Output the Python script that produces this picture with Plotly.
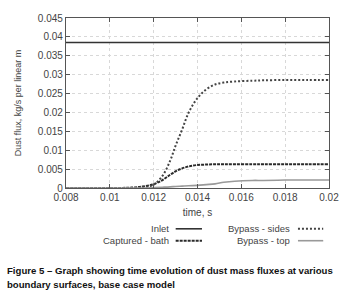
import plotly.graph_objects as go

t = [0.008, 0.009, 0.010, 0.011, 0.0115, 0.012, 0.0124, 0.01275, 0.013, 0.0133,
     0.0136, 0.014, 0.0144, 0.0148, 0.0152, 0.0157, 0.0165, 0.017, 0.018, 0.019, 0.020]
inlet = [0.0385] * len(t)
captured = [0.0, 0.0, 0.0, 0.0001, 0.0004, 0.0010, 0.0021, 0.0035, 0.0044, 0.0052,
            0.0057, 0.0061, 0.0062, 0.0063, 0.0063, 0.0063, 0.0063, 0.0063, 0.0063, 0.0063, 0.0063]
sides = [0.0, 0.0, 0.0, 0.0, 0.0002, 0.0009, 0.0032, 0.0072, 0.0112, 0.0155,
         0.0200, 0.0238, 0.0261, 0.0274, 0.0279, 0.0282, 0.0284, 0.0285, 0.0286, 0.0286, 0.0286]
top = [0.0, 0.0, 0.0, 0.0, 0.0, 0.0001, 0.0002, 0.0003, 0.0004, 0.0005,
       0.0006, 0.0007, 0.0009, 0.0011, 0.0015, 0.0018, 0.0020, 0.0020, 0.0021, 0.0021, 0.0021]

x_ticks = [0.008, 0.01, 0.012, 0.014, 0.016, 0.018, 0.02]
x_labels = ["0.008", "0.01", "0.012", "0.014", "0.016", "0.018", "0.02"]
y_ticks = [0, 0.005, 0.01, 0.015, 0.02, 0.025, 0.03, 0.035, 0.04, 0.045]
y_labels = ["0", "0.005", "0.01", "0.015", "0.02", "0.025", "0.03", "0.035", "0.04", "0.045"]

series = [
    ("Inlet", inlet, dict(color="#333333", width=1.6, dash="solid")),
    ("Captured - bath", captured, dict(color="#2a2a2a", width=2, dash="3px,1px")),
    ("Bypass - sides", sides, dict(color="#444444", width=2, dash="2px,2px")),
    ("Bypass - top", top, dict(color="#999999", width=1.6, dash="solid")),
]

fig = go.Figure()
for name, ys, ln in series:
    fig.add_trace(go.Scatter(x=t, y=ys, mode="lines", name=name, line=ln,
                             line_shape="spline", showlegend=False))

FONT = "Liberation Sans, Arial, sans-serif"
fig.update_layout(
    width=351, height=295,
    margin=dict(l=66, r=14, t=15, b=107),
    paper_bgcolor="white", plot_bgcolor="white",
    font=dict(family=FONT, size=10, color="#444444"),
    xaxis=dict(range=[0.008, 0.02], tickvals=x_ticks, ticktext=x_labels,
               showgrid=True, gridcolor="#d8d8d8", griddash="dot", gridwidth=1,
               showline=True, linecolor="#555555", linewidth=1.2, mirror="ticks",
               ticks="inside", ticklen=4, tickcolor="#555555", zeroline=False,
               title=dict(text="time, s", font=dict(size=10, color="#444444"), standoff=6)),
    yaxis=dict(range=[0, 0.045], tickvals=y_ticks, ticktext=y_labels,
               showgrid=True, gridcolor="#d8d8d8", griddash="dot", gridwidth=1,
               showline=True, linecolor="#555555", linewidth=1.2, mirror="ticks",
               ticks="inside", ticklen=4, tickcolor="#555555", zeroline=False,
               title=dict(text="Dust flux, kg/s per linear m", font=dict(size=9, color="#444444"), standoff=14)),
)

# gnuplot-style legend: text right-aligned, then line sample
row1, row2 = -0.240, -0.310
leg = [
    (0.395, 0.417, 0.517, row1),
    (0.395, 0.417, 0.517, row2),
    (0.856, 0.882, 0.978, row1),
    (0.856, 0.882, 0.978, row2),
]
for (name, ys, ln), (tx, x0, x1, yy) in zip(series, leg):
    fig.add_annotation(x=tx, y=yy, xref="paper", yref="paper", text=name,
                       showarrow=False, xanchor="right", yanchor="middle",
                       borderpad=0, font=dict(size=9.5, color="#444444"))
    fig.add_shape(type="line", xref="paper", yref="paper", x0=x0, x1=x1, y0=yy, y1=yy,
                  line=dict(color=ln["color"], width=ln["width"], dash=ln["dash"]))

fig.add_annotation(x=-0.232, y=-0.484, xref="paper", yref="paper",
                   text="<b>Figure 5 – Graph showing time evolution of dust mass fluxes at various</b>",
                   showarrow=False, xanchor="left", yanchor="middle",
                   font=dict(family=FONT, size=9.6, color="#111111"))
fig.add_annotation(x=-0.232, y=-0.567, xref="paper", yref="paper",
                   text="<b>boundary surfaces, base case model</b>",
                   showarrow=False, xanchor="left", yanchor="middle",
                   font=dict(family=FONT, size=9.6, color="#111111"))

fig.write_html("out.html", config={"displayModeBar": False},
               post_script="document.body.style.margin='0';document.body.style.overflow='hidden';")
